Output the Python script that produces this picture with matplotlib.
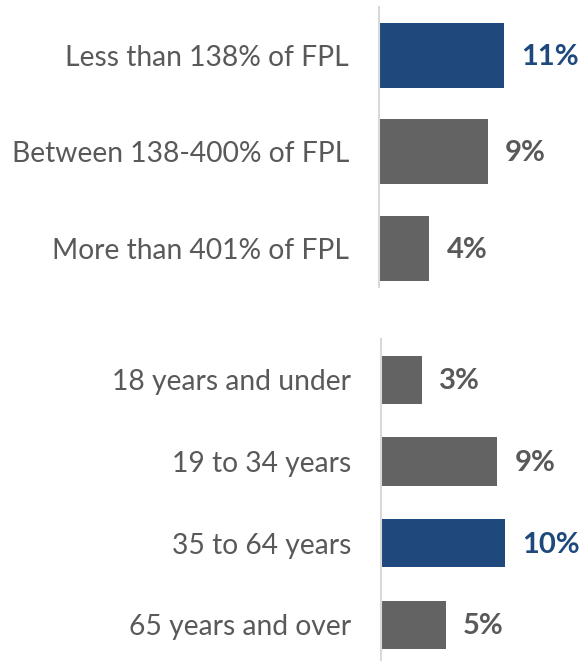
import matplotlib
matplotlib.use("Agg")
import matplotlib.pyplot as plt

# ---- data ----
income_labels = ["Less than 138% of FPL", "Between 138-400% of FPL", "More than 401% of FPL"]
income_values = [10.7, 9.3, 4.3]
income_highlight = [True, False, False]

age_labels = ["18 years and under", "19 to 34 years", "35 to 64 years", "65 years and over"]
age_values = [3.25, 9.2, 9.85, 5.15]
age_highlight = [False, False, True, False]

BLUE = "#1F497D"
GRAY_BAR = "#636363"
GRAY_TXT = "#595959"
SPINE = "#D9D9D9"

plt.rcParams['font.family'] = ['Lato', 'DejaVu Sans']

W, H = 582, 662
fig = plt.figure(figsize=(W / 100, H / 100), dpi=100)


def panel(rect_px, labels, values, highlight, xmax, ylim, height):
    x0, ytop, x1, ybot = rect_px
    ax = fig.add_axes([x0 / W, 1 - ybot / H, (x1 - x0) / W, (ybot - ytop) / H])
    pos = list(range(len(labels)))
    colors = [BLUE if h else GRAY_BAR for h in highlight]
    ax.barh(pos, values, height=height, color=colors, zorder=2)
    ax.set_xlim(0, xmax)
    ax.set_ylim(*ylim)
    ax.set_yticks(pos)
    ax.set_yticklabels(labels, fontsize=20.3, color=GRAY_TXT)
    ax.tick_params(axis='y', length=0, pad=21.6)
    ax.set_xticks([])
    for s in ["top", "right", "bottom"]:
        ax.spines[s].set_visible(False)
    ax.spines["left"].set_color(SPINE)
    ax.spines["left"].set_linewidth(1.5)
    ax.patch.set_alpha(0)
    for p, v, c in zip(pos, values, colors):
        tc = BLUE if c == BLUE else GRAY_TXT
        ax.annotate(f"{round(v)}%", (v, p), xytext=(12.5, -1), textcoords="offset points",
                    ha="left", va="center", fontsize=21, fontweight="bold", color=tc)
    return ax


panel((379, 7, 582, 287), income_labels, income_values, income_highlight,
      203 / 11.7, (2.4, -0.5), 0.67)
panel((381, 339, 582, 660), age_labels, age_values, age_highlight,
      201 / 12.6, (3.43, -0.5), 0.59)

fig.savefig("out.png", dpi=100)
